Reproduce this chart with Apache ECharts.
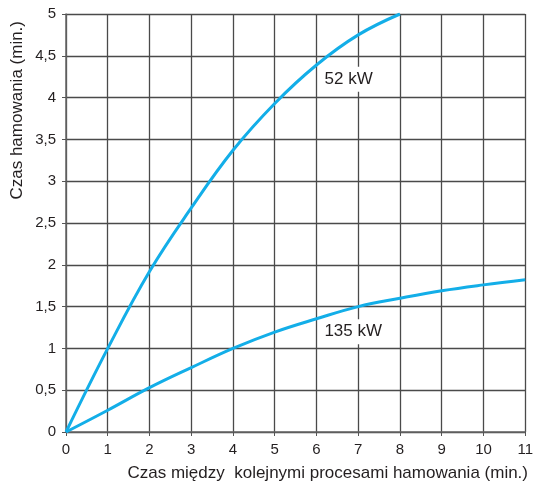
<!DOCTYPE html>
<html>
<head>
<meta charset="utf-8">
<script src="https://cdn.jsdelivr.net/npm/echarts@6/dist/echarts.min.js"></script>
<style>
html,body{margin:0;padding:0;background:#fff;}
#chart{width:536px;height:486px;}
</style>
</head>
<body>
<div id="chart"></div>
<script>
var xValues = [0, 1, 2, 3, 4, 5, 6, 7, 8, 9, 10, 11];
var series52 = [0, 1.0, 1.92, 2.68, 3.37, 3.93, 4.39, 4.75, 5.0];
var series135 = [0, 0.26, 0.53, 0.77, 1.0, 1.195, 1.354, 1.5, 1.6, 1.69, 1.76, 1.82];
var seriesNames = ['52 kW', '135 kW'];
var xTitle = 'Czas między  kolejnymi procesami hamowania (min.)';
var yTitle = 'Czas hamowania (min.)';

function pairs(vals) {
  return vals.map(function (v, i) { return [xValues[i], v]; });
}

var FONT = '"Liberation Sans", Arial, sans-serif';
var TXT = '#231f20';
var LINE = '#13aee8';
var GRID = '#4a4a4a';

var chart = echarts.init(document.getElementById('chart'), null, {renderer: 'canvas'});

function labelPoint(name, coord) {
  return {
    coord: coord,
    symbol: 'rect',
    symbolSize: 0.01,
    label: {
      show: true,
      position: 'inside',
      formatter: name,
      color: TXT,
      fontFamily: FONT,
      fontSize: 17,
      backgroundColor: '#fff',
      padding: [4, 1, 4, 1]
    }
  };
}

chart.setOption({
  animation: false,
  backgroundColor: '#fff',
  grid: {left: 66, right: 8, top: 14, bottom: 54, containLabel: false},
  xAxis: {
    type: 'value', min: 0, max: 11, interval: 1,
    axisLine: {show: true, lineStyle: {color: '#666', width: 1.5}},
    axisTick: {show: true, length: 4, lineStyle: {color: '#555'}},
    axisLabel: {color: TXT, fontFamily: FONT, fontSize: 15, margin: 10},
    splitLine: {show: true, lineStyle: {color: GRID, width: 1.3}}
  },
  yAxis: {
    type: 'value', min: 0, max: 5, interval: 0.5,
    axisLine: {show: true, lineStyle: {color: '#666', width: 1.5}},
    axisTick: {show: true, length: 4, lineStyle: {color: '#555'}},
    axisLabel: {
      color: TXT, fontFamily: FONT, fontSize: 15, margin: 10,
      formatter: function (v) { return String(v).replace('.', ','); }
    },
    splitLine: {show: true, lineStyle: {color: GRID, width: 1.3}}
  },
  graphic: [
    {
      type: 'text', x: 528, y: 473,
      style: {text: xTitle, fill: TXT, font: '17px ' + FONT, textAlign: 'right', textVerticalAlign: 'middle'}
    },
    {
      type: 'text', x: 17, y: 21, rotation: Math.PI / 2,
      style: {text: yTitle, fill: TXT, font: '17px ' + FONT, textAlign: 'right', textVerticalAlign: 'middle'}
    }
  ],
  series: [
    {
      name: seriesNames[0], type: 'line', data: pairs(series52), smooth: 0.4,
      showSymbol: false, lineStyle: {color: LINE, width: 3}, z: 3,
      markPoint: {data: [labelPoint(seriesNames[0], [6.77, 4.22])], silent: true}
    },
    {
      name: seriesNames[1], type: 'line', data: pairs(series135), smooth: 0.4,
      showSymbol: false, lineStyle: {color: LINE, width: 3}, z: 3,
      markPoint: {data: [labelPoint(seriesNames[1], [6.88, 1.2])], silent: true}
    }
  ]
});
</script>
</body>
</html>
